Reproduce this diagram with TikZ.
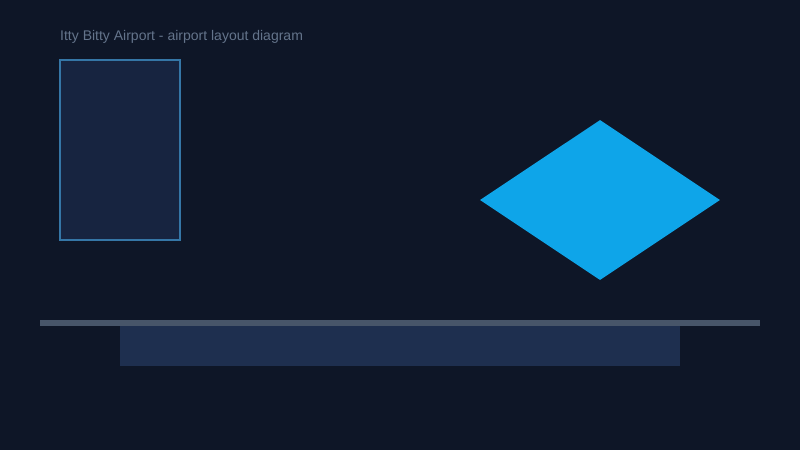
\documentclass[tikz,border=0pt]{standalone}
\usepackage{fontspec}
\setmainfont{Liberation Sans}
\usetikzlibrary{shapes.geometric}
\definecolor{bg}{HTML}{0E1627}
\definecolor{termfill}{HTML}{172440}
\definecolor{termline}{HTML}{3576A6}
\definecolor{runway}{HTML}{475569}
\definecolor{apron}{HTML}{1E2F4F}
\definecolor{sky}{HTML}{0EA5E9}
\definecolor{titlec}{HTML}{64748B}
\tikzset{
  terminal/.style={draw=termline, fill=termfill, line width=1.3pt, inner sep=0pt, minimum width=120pt, minimum height=180pt},
  runwaybar/.style={fill=runway, draw=none, inner sep=0pt, minimum width=720pt, minimum height=6pt},
  apronbox/.style={fill=apron, draw=none, inner sep=0pt, minimum width=560pt, minimum height=40pt},
  tower/.style={diamond, fill=sky, draw=none, inner sep=0pt, minimum width=240pt, minimum height=160pt},
  titletext/.style={text=titlec, font=\fontsize{14}{16}\selectfont, inner sep=0pt, anchor=base west}
}
\begin{document}
\begin{tikzpicture}[x=1pt,y=-1pt]
\fill[bg] (0,0) rectangle (800,450);
\useasboundingbox (0,0) rectangle (800,450);
\node[titletext] (title) at (60,40.5) {Itty Bitty Airport - airport layout diagram};
\node[terminal] (term) at (120,150) {};
\node[tower] (dia) at (600,200) {};
\node[apronbox] (apr) at (400,346) {};
\node[runwaybar] (rw) at (400,323) {};
\end{tikzpicture}
\end{document}
